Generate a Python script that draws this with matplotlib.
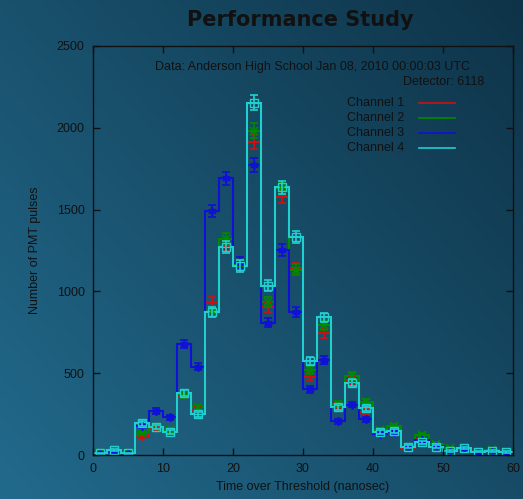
import numpy as np
import matplotlib
matplotlib.use("Agg")
import matplotlib.pyplot as plt
from matplotlib.colors import LinearSegmentedColormap

plt.rcParams['font.family'] = ['Liberation Sans', 'DejaVu Sans']

# ---- data ----
bin_edges = list(range(0, 62, 2))
channel_names = ["Channel 1", "Channel 2", "Channel 3", "Channel 4"]
ch1 = [10, 25, 10, 112, 165, 135, 360, 275, 935, 1280, 1150, 1915, 906, 1579, 1141,
       479, 744, 300, 458, 265, 140, 150, 45, 100, 50, 25, 40, 15, 25, 15]
ch2 = [12, 22, 10, 134, 170, 150, 370, 291, 880, 1320, 1160, 1982, 937, 1630, 1131,
       520, 795, 310, 483, 326, 150, 175, 48, 122, 70, 40, 40, 18, 30, 18]
ch3 = [10, 20, 12, 177, 269, 230, 678, 540, 1491, 1691, 1175, 1773, 809, 1253, 876,
       401, 581, 206, 308, 218, 130, 140, 48, 90, 55, 25, 45, 15, 22, 15]
ch4 = [10, 30, 10, 194, 173, 143, 377, 249, 876, 1270, 1155, 2153, 1035, 1636, 1331,
       576, 842, 291, 442, 285, 143, 149, 51, 77, 51, 26, 45, 20, 26, 18]
x_ticks = [0, 10, 20, 30, 40, 50, 60]
y_ticks = [0, 500, 1000, 1500, 2000, 2500]

series = [ch1, ch2, ch3, ch4]
colors = ["#d01010", "#008a00", "#1010d8", "#20d0d0"]
markers = ["+", "x", (6, 2, 0), "s"]

W, H = 523, 499
fig = plt.figure(figsize=(W / 100, H / 100), dpi=100)

# background gradient
bg = fig.add_axes([0, 0, 1, 1], zorder=-10)
yy, xx = np.mgrid[0:1:200j, 0:1:200j]
t = 0.55 * (1 - xx) + 0.45 * yy  # yy=0 top in imshow default origin upper
t = (t - t.min()) / (t.max() - t.min())
cmap = LinearSegmentedColormap.from_list("bg", ["#0e3348", "#226a8c"])
bg.imshow(t, cmap=cmap, aspect='auto', extent=[0, 1, 0, 1], origin='upper')
bg.axis('off')

L, R, T, B = 93, 513, 46, 455
ax = fig.add_axes([L / W, 1 - B / H, (R - L) / W, (B - T) / H])
ax.patch.set_alpha(0)

edges = np.array(bin_edges)
centers = (edges[:-1] + edges[1:]) / 2
for vals, c, m in zip(series, colors, markers):
    v = np.array(vals, dtype=float)
    ax.stairs(v, edges, color=c, lw=1.5, baseline=None)
    ax.errorbar(centers, v, yerr=np.sqrt(v), fmt='none', ecolor=c, elinewidth=1.2,
                capsize=3, capthick=1.2)
    if m == "s":
        ax.plot(centers, v, ls='none', marker=m, ms=5.5, mfc='none', mec=c, mew=1.0)
    else:
        ax.plot(centers, v, ls='none', marker=m, ms=6, color=c, mew=1.2)

ax.set_xlim(0, 60)
ax.set_ylim(0, 2500)
ax.set_xticks(x_ticks)
ax.set_yticks(y_ticks)
ax.tick_params(direction='in', length=5, width=1, top=True, right=True,
               labelsize=9, colors='#111111', pad=6)
for s in ax.spines.values():
    s.set_color('#111111')
    s.set_linewidth(1.0)

ax.set_xlabel("Time over Threshold (nanosec)", fontsize=9, color='#111111', labelpad=4)
fig.text(35 / W, 1 - 250 / H, "Number of PMT pulses", rotation=90, fontsize=9,
         color='#111111', ha='center', va='center')

fig.text(300 / W, 1 - 20 / H, "Performance Study", fontsize=15, fontweight='bold',
         family='DejaVu Sans', color='#111111', ha='center', va='center')

ax.text(0.898, 0.949, "Data: Anderson High School Jan 08, 2010 00:00:03 UTC",
        transform=ax.transAxes, ha='right', va='center', fontsize=9, color='#111111')
ax.text(0.931, 0.912, "Detector: 6118", transform=ax.transAxes, ha='right',
        va='center', fontsize=9, color='#111111')

leg_y = [0.861, 0.824, 0.787, 0.751]
for name, c, y in zip(channel_names, colors, leg_y):
    ax.text(0.740, y, name, transform=ax.transAxes, ha='right', va='center',
            fontsize=9, color='#111111')
    ax.plot([0.776, 0.862], [y, y], transform=ax.transAxes, color=c, lw=1.2)

fig.savefig("out.png", dpi=100)
